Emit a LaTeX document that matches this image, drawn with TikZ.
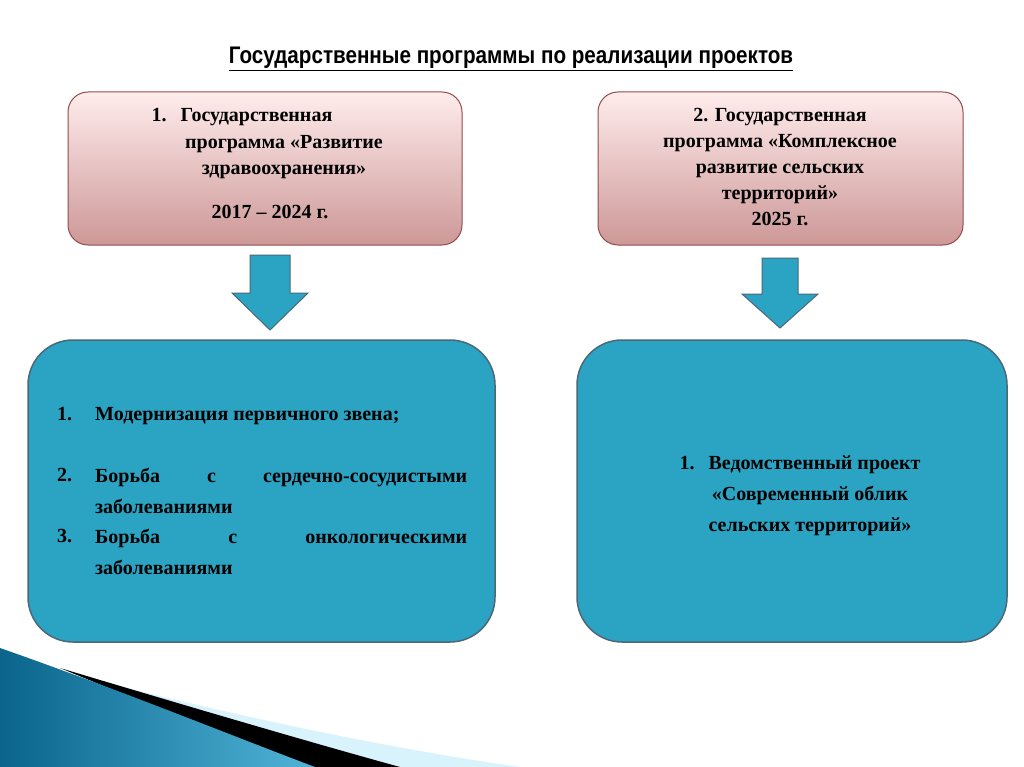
\documentclass[tikz,border=0pt]{standalone}
\usepackage{fontspec}
\setmainfont{Liberation Serif}
\newfontfamily\titlefont{Liberation Sans}
\begin{document}
\begin{tikzpicture}[x=1pt,y=-1pt,
  topbox/.style={draw=red!40!black!70,line width=1pt,rounded corners=20pt,top color=pink!30!white,bottom color=red!35!gray!60!white,drop shadow/.style={}},
  botbox/.style={draw=cyan!40!black,line width=1.5pt,rounded corners=45pt,fill={rgb,255:red,43;green,163;blue,194}},
  arr/.style={draw=cyan!40!black,line width=1pt,fill={rgb,255:red,43;green,163;blue,194}},
  txt/.style={font=\bfseries\fontsize{20}{26}\selectfont,align=center}]
\useasboundingbox (0,0) rectangle (1024,767);
\fill[white] (0,0) rectangle (1024,767);
% decoration
\fill[cyan!15] (80,676) .. controls (250,720) and (400,750) .. (520,767) -- (300,767) -- cycle;
\fill[black] (60,668) .. controls (200,710) and (320,745) .. (400,767) -- (300,767) -- cycle;
\shade[left color={rgb,255:red,10;green,100;blue,140},right color={rgb,255:red,80;green,180;blue,215}] (0,648) .. controls (120,690) and (230,735) .. (315,767) -- (0,767) -- cycle;
% title
\node[font=\titlefont\bfseries\fontsize{24}{28}\selectfont,xscale=0.86] (title) at (511,59) {\underline{Государственные программы по реализации проектов}};
% top boxes
\path[topbox] (68,92) rectangle (462,245);
\node (t1) at (265,168) {};
\node[txt,anchor=north west] (t1a) at (148,105) {1.\hspace{0.7em}Государственная};
\node[txt] (t1b) at (284,157) {программа «Развитие\\здравоохранения»};
\node[txt] (t1c) at (270,212) {2017 – 2024 г.};
\path[topbox] (598,92) rectangle (963,245);
\node[txt] (t2) at (780,167) {2. Государственная\\программа «Комплексное\\развитие сельских\\территорий»\\2025 г.};
% arrows
\path[arr] (250,255) -- (290,255) -- (290,293) -- (308,293) -- (270,330) -- (232,293) -- (250,293) -- cycle;
\path[arr] (762,258) -- (798,258) -- (798,294) -- (818,294) -- (780,328) -- (742,294) -- (762,294) -- cycle;
% bottom boxes
\path[botbox] (28,340) rectangle (495,642);
\path[botbox] (577,340) rectangle (1007,642);
\tikzset{li/.style={font=\bfseries\fontsize{20}{30.5}\selectfont,text width=372pt,align=justify,anchor=north west,inner sep=0pt}}
\node[font=\bfseries\fontsize{20}{26}\selectfont,anchor=north west,inner sep=0pt] (n1) at (57,407) {1.};
\node[li] (i1) at (95,407) {Модернизация первичного звена;};
\node[font=\bfseries\fontsize{20}{26}\selectfont,anchor=north west,inner sep=0pt] (n2) at (57,468) {2.};
\node[li] (i2) at (95,468) {Борьба с сердечно-сосудистыми заболеваниями};
\node[font=\bfseries\fontsize{20}{26}\selectfont,anchor=north west,inner sep=0pt] (n3) at (57,529) {3.};
\node[li] (i3) at (95,529) {Борьба с онкологическими заболеваниями};
\node[txt,font=\bfseries\fontsize{20}{31}\selectfont] (r1) at (800,496) {1.\hspace{0.7em}Ведомственный проект\\\hspace{1em}«Современный облик\\\hspace{1em}сельских территорий»};
\end{tikzpicture}
\end{document}
